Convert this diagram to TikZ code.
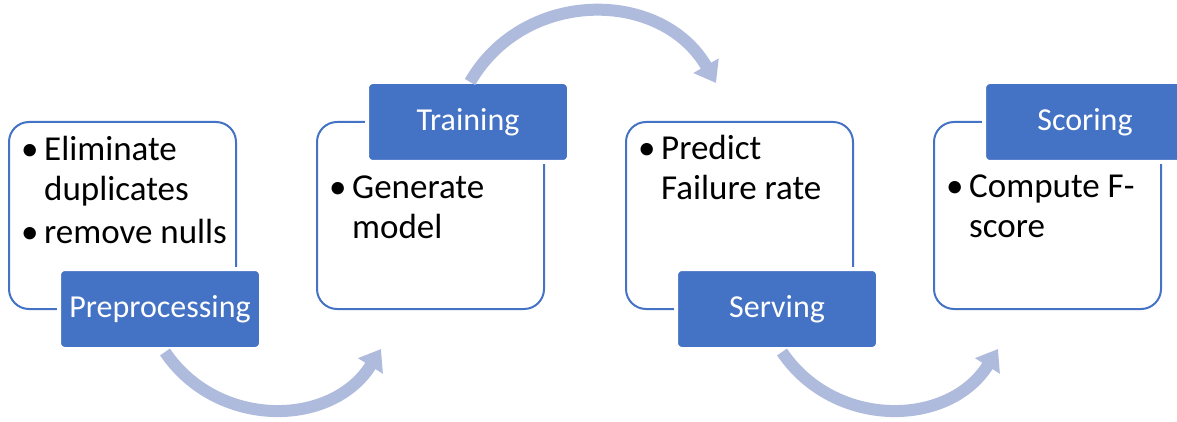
\documentclass[tikz,border=0pt]{standalone}
\usepackage{fontspec}
\setmainfont{Carlito}
\usepackage{xcolor}
\usetikzlibrary{arrows.meta}
\usetikzlibrary{positioning}

\definecolor{stageblue}{RGB}{68,114,196}
\definecolor{flowblue}{RGB}{174,187,221}
\newcommand{\bitem}[1]{\makebox[23pt][l]{\textbullet}#1}
\newcommand{\bcont}[1]{\hspace*{23pt}#1}

\begin{document}
\begin{tikzpicture}[x=1pt,y=1pt,
  stage/.style={draw=stageblue,line width=2pt,rounded corners=20pt,
    minimum width=227pt,minimum height=187pt,inner sep=0pt,outer sep=0pt},
  tag/.style={fill=stageblue,draw=white,line width=4pt,rounded corners=6pt,
    minimum width=202pt,minimum height=80pt,outer sep=0pt,text=white,
    font=\fontsize{32}{38}\selectfont},
  items/.style={anchor=base west,align=left,inner sep=0pt,
    font=\fontsize{35}{40}\selectfont},
  flow/.style={draw=flowblue,line width=12pt,-{Triangle[length=20pt,width=28pt]}}
]
\useasboundingbox (0,0) rectangle (1177,421);

\node[stage] (prep box) at (122.5,205.5) {};
\node[stage,right=81pt of prep box] (train box) {};
\node[stage,right=82pt of train box] (serve box) {};
\node[stage,right=81pt of serve box] (score box) {};

% bullet text (base = last line)
\node[items] (prep text) at ([shift={(12,-121)}]prep box.north west)
  {\bitem{Eliminate}\\ \bcont{duplicates}\\[3pt] \bitem{remove nulls}};
\node[items] (train text) at ([shift={(12,-116)}]train box.north west)
  {\bitem{Generate}\\ \bcont{model}};
\node[items] (serve text) at ([shift={(12,-77)}]serve box.north west)
  {\bitem{Predict}\\ \bcont{Failure rate}};
\node[items] (score text) at ([shift={(12,-115)}]score box.north west)
  {\bitem{Compute F-}\\ \bcont{score}};

% stage names
\node[tag,anchor=west] (prep) at ([xshift=50]prep box.south west) {Preprocessing};
\node[tag,anchor=west] (train) at ([xshift=50]train box.north west) {Training};
\node[tag,anchor=west] (serve) at ([xshift=50]serve box.south west) {Serving};
\node[tag,anchor=west] (score) at ([xshift=50]score box.north west) {Scoring};

% arrows
\coordinate (to train) at ([shift={(64,-40)}]train box.south west);
\coordinate (to serve) at ([shift={(90,39)}]serve box.north west);
\coordinate (to score) at ([shift={(64,-40)}]score box.south west);
\draw[flow] ([shift={(5,-3)}]prep.south) to[out=-56,in=-122,looseness=1.1] (to train);
\draw[flow] ([xshift=2]train.north) to[out=60,in=120,looseness=1.13] (to serve);
\draw[flow] ([shift={(5,-3)}]serve.south) to[out=-56,in=-122,looseness=1.1] (to score);
\end{tikzpicture}
\end{document}
